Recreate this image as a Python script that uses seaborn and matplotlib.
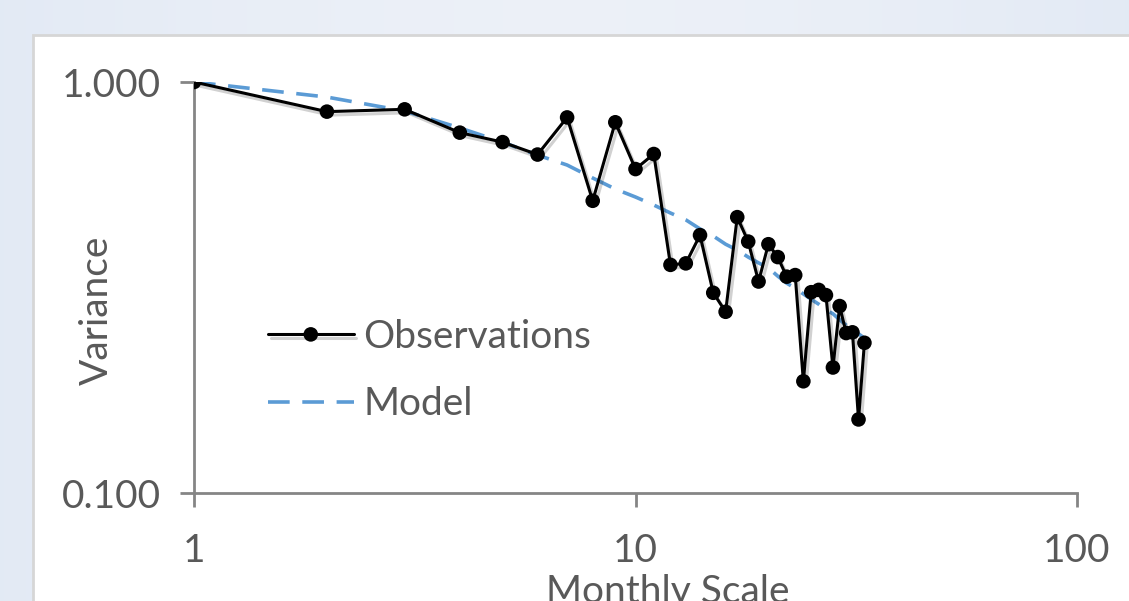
import numpy as np
import pandas as pd
import matplotlib
matplotlib.use("Agg")
import matplotlib.pyplot as plt
import matplotlib.patheffects as pe
from matplotlib.patches import Rectangle
from matplotlib.ticker import FixedLocator, FixedFormatter, NullLocator
import seaborn as sns

# Monthly aggregation scale and normalised variance
months = list(range(1, 34))
observed = [1.000, 0.847, 0.858, 0.753, 0.714, 0.666, 0.820, 0.514, 0.798, 0.614,
            0.668, 0.359, 0.362, 0.424, 0.307, 0.276, 0.469, 0.409, 0.327, 0.403,
            0.375, 0.336, 0.339, 0.187, 0.308, 0.312, 0.303, 0.202, 0.285, 0.245,
            0.246, 0.151, 0.232]
model = [1.000, 0.919, 0.850, 0.773, 0.714, 0.664, 0.628, 0.584, 0.549, 0.525,
         0.502, 0.480, 0.462, 0.439, 0.422, 0.403, 0.390, 0.375, 0.363, 0.353,
         0.337, 0.324, 0.315, 0.305, 0.296, 0.288, 0.279, 0.273, 0.264, 0.256,
         0.251, 0.244, 0.238]

x_ticks = [1, 10, 100]
x_tick_labels = ["1", "10", "100"]
y_ticks = [0.1, 1.0]
y_tick_labels = ["0.100", "1.000"]

df = pd.DataFrame({"month": months, "observed": observed, "model": model})

sns.set_theme(style="white")
plt.rcParams["font.family"] = ["Lato", "DejaVu Sans"]

W, H = 1129, 601
fig = plt.figure(figsize=(W / 100, H / 100), dpi=100)

# slide-like backdrop with a soft gradient
bg = fig.add_axes([0, 0, 1, 1], zorder=-10)
grad = np.linspace(0, 1, 256)
img = np.zeros((2, 256, 3))
c0 = np.array([0.890, 0.918, 0.960])
c1 = np.array([0.930, 0.945, 0.972])
img[:] = c0 + (c1 - c0) * np.sin(grad * np.pi)[:, None] * 0.9
bg.imshow(img, aspect="auto", extent=[0, 1, 0, 1])
bg.set_axis_off()
# white chart panel
bg.add_patch(Rectangle((33 / W, -0.05), 1.1, (H - 35) / H + 0.05,
                       transform=bg.transAxes, facecolor="white",
                       edgecolor="#d6d6d6", linewidth=2))
bg.set_xlim(0, 1)
bg.set_ylim(0, 1)

ax = fig.add_axes([194 / W, (H - 493) / H, (1077 - 194) / W, (493 - 82) / H])
ax.set_facecolor("none")

text_color = "#595959"
axis_color = "#858585"

sns.lineplot(data=df, x="month", y="model", ax=ax, color="#5b9bd5",
             linewidth=2.6, dashes=False, label="Model", zorder=2)
ax.lines[-1].set_dashes([6, 3.5])

sns.lineplot(data=df, x="month", y="observed", ax=ax, color="black",
             linewidth=2.2, marker="o", markersize=10.5, markeredgewidth=0,
             label="Observations", zorder=3)
obs_line = ax.lines[-1]
obs_line.set_path_effects([pe.SimpleLineShadow(offset=(2, -2.5), alpha=0.2),
                           pe.Normal()])

ax.set_xscale("log")
ax.set_yscale("log")
ax.set_xlim(1, 100)
ax.set_ylim(0.1, 1.0)

ax.xaxis.set_major_locator(FixedLocator(x_ticks))
ax.xaxis.set_major_formatter(FixedFormatter(x_tick_labels))
ax.xaxis.set_minor_locator(NullLocator())
ax.yaxis.set_major_locator(FixedLocator(y_ticks))
ax.yaxis.set_major_formatter(FixedFormatter(y_tick_labels))
ax.yaxis.set_minor_locator(NullLocator())

for side in ["top", "right"]:
    ax.spines[side].set_visible(False)
for side in ["left", "bottom"]:
    ax.spines[side].set_color(axis_color)
    ax.spines[side].set_linewidth(2)

ax.tick_params(axis="both", which="major", direction="out", length=10,
               width=2, color=axis_color, labelcolor=text_color,
               labelsize=28, bottom=True, left=True)
ax.tick_params(axis="x", pad=19)
ax.tick_params(axis="y", pad=14)

ax.set_xlabel("Monthly Scale", fontsize=28, color=text_color)
ax.set_ylabel("Variance", fontsize=28, color=text_color)
ax.xaxis.set_label_coords((668 - 194) / 883, (493 - 574) / 411)
ax.yaxis.label.set_va("center")
ax.yaxis.set_label_coords((97 - 194) / 883, (493 - 310) / 411)

handles, labels = ax.get_legend_handles_labels()
order = [labels.index("Observations"), labels.index("Model")]
leg = ax.legend([handles[i] for i in order], [labels[i] for i in order],
                loc="upper left", bbox_to_anchor=((268 - 194) / 883, (493 - 319) / 411),
                frameon=False, fontsize=28, handlelength=2.2,
                handletextpad=0.25, labelspacing=0.8, borderpad=0,
                borderaxespad=0, numpoints=1)
for t in leg.get_texts():
    t.set_color(text_color)

fig.savefig("out.png", dpi=100)
